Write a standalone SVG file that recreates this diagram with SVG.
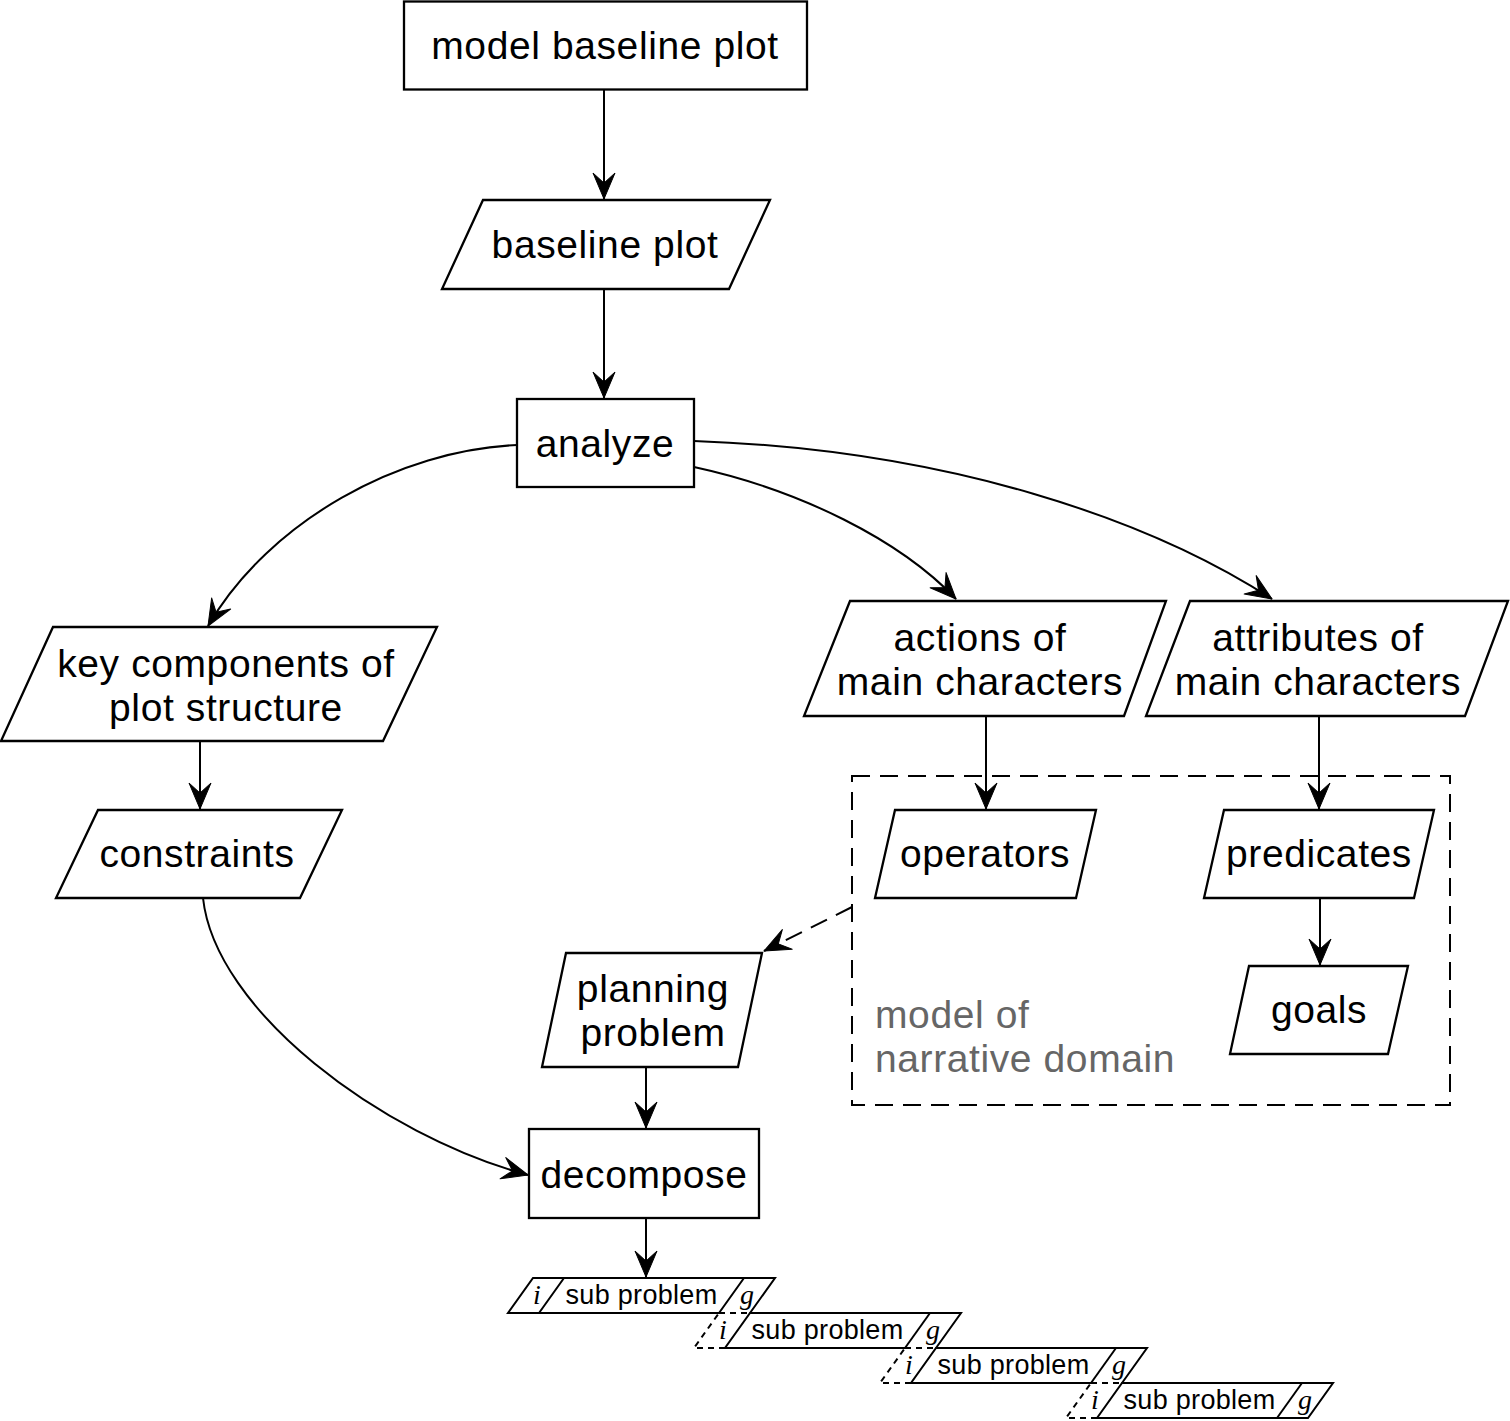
<svg xmlns="http://www.w3.org/2000/svg" width="1510" height="1421" viewBox="0 0 1510 1421">
<style>
.nd{fill:#fff;stroke:#000;stroke-width:2.3;stroke-linejoin:miter}
.t{font-family:"Liberation Sans",Arial,sans-serif;font-size:39px;letter-spacing:0.6px;fill:#000;text-anchor:middle}
.gt{font-family:"Liberation Sans",Arial,sans-serif;font-size:39px;letter-spacing:0.6px;fill:#666}
.c{fill:none;stroke:#000;stroke-width:2}
.ds{stroke-dasharray:18 10}
.sp{fill:none;stroke:#000;stroke-width:2}
.spd{fill:none;stroke:#000;stroke-width:2;stroke-dasharray:6 5}
.st{font-family:"Liberation Sans",Arial,sans-serif;font-size:27px;letter-spacing:0.3px;fill:#000;text-anchor:middle}
.it{font-family:"Liberation Serif","Times New Roman",serif;font-style:italic;font-size:28px;fill:#000;text-anchor:middle}
</style>
<defs>
<marker id="ah" viewBox="-28 -13 30 26" refX="0" refY="0" markerWidth="30" markerHeight="26" orient="auto" markerUnits="userSpaceOnUse">
<path d="M0,0 L-26,-11 L-16,0 L-26,11 Z" fill="#000" stroke="#000" stroke-width="1" stroke-linejoin="round"/>
</marker>
</defs>
<rect width="1510" height="1421" fill="#fff"/>

<g id="connectors">
<path class="c" d="M604,89 L604,199" marker-end="url(#ah)"/>
<path class="c" d="M604,289 L604,398" marker-end="url(#ah)"/>
<path class="c" d="M517,445 C400,450 270,520 208,626" marker-end="url(#ah)"/>
<path class="c" d="M694,467 C800,490 900,540 956,599" marker-end="url(#ah)"/>
<path class="c" d="M694,441 C950,450 1150,520 1272,599" marker-end="url(#ah)"/>
<path class="c" d="M200,741 L200,809" marker-end="url(#ah)"/>
<path class="c" d="M986,716 L986,809" marker-end="url(#ah)"/>
<path class="c" d="M1319,716 L1319,809" marker-end="url(#ah)"/>
<path class="c" d="M1320,898 L1320,965" marker-end="url(#ah)"/>
<path class="c" d="M203,898 C215,1010 380,1135 528,1175" marker-end="url(#ah)"/>
<path class="c ds" d="M852,907 L764,951" marker-end="url(#ah)"/>
<path class="c" d="M646,1067 L646,1128" marker-end="url(#ah)"/>
<path class="c" d="M646,1218 L646,1277" marker-end="url(#ah)"/>
</g>

<g id="domain">
<rect x="852" y="776" width="598" height="329" fill="none" stroke="#000" stroke-width="2" stroke-dasharray="18 10"/>
<text class="gt" x="875" y="1028">model of</text>
<text class="gt" x="875" y="1072">narrative domain</text>
</g>

<g id="model-baseline-plot">
<rect class="nd" x="404" y="1.5" width="403" height="88"/>
<text class="t" x="605" y="59">model baseline plot</text>
</g>

<g id="baseline-plot">
<polygon class="nd" points="483,200 770,200 729,289 442,289"/>
<text class="t" x="605" y="258">baseline plot</text>
</g>

<g id="analyze">
<rect class="nd" x="517" y="399" width="177" height="88"/>
<text class="t" x="605" y="457">analyze</text>
</g>

<g id="key-components">
<polygon class="nd" points="53,627 437,627 383,741 1,741"/>
<text class="t" x="226" y="677">key components of</text>
<text class="t" x="226" y="721">plot structure</text>
</g>

<g id="constraints">
<polygon class="nd" points="98,810 342,810 300,898 56,898"/>
<text class="t" x="197" y="867">constraints</text>
</g>

<g id="actions">
<polygon class="nd" points="850,601 1166,601 1124,716 804,716"/>
<text class="t" x="980" y="651">actions of</text>
<text class="t" x="980" y="695">main characters</text>
</g>

<g id="attributes">
<polygon class="nd" points="1190,601 1508,601 1465,716 1146,716"/>
<text class="t" x="1318" y="651">attributes of</text>
<text class="t" x="1318" y="695">main characters</text>
</g>

<g id="operators">
<polygon class="nd" points="895,810 1096,810 1076,898 875,898"/>
<text class="t" x="985" y="867">operators</text>
</g>

<g id="predicates">
<polygon class="nd" points="1224,810 1434,810 1414,898 1204,898"/>
<text class="t" x="1319" y="867">predicates</text>
</g>

<g id="goals">
<polygon class="nd" points="1249,966 1408,966 1388,1054 1230,1054"/>
<text class="t" x="1319" y="1023">goals</text>
</g>

<g id="planning-problem">
<polygon class="nd" points="566,953 762,953 738,1067 542,1067"/>
<text class="t" x="653" y="1002">planning</text>
<text class="t" x="653" y="1046">problem</text>
</g>

<g id="decompose">
<rect class="nd" x="529" y="1129" width="230" height="89"/>
<text class="t" x="644" y="1188">decompose</text>
</g>

<g id="sub-problem-1">
<path class="sp" d="M719,1313 L508,1313 L533,1278 L775,1278 L750,1313"/>
<path class="spd" d="M719,1313 L750,1313"/>
<path class="sp" d="M539,1313 L564,1278 M719,1313 L744,1278"/>
<text class="it" x="537" y="1304">i</text>
<text class="st" x="641.5" y="1304">sub problem</text>
<text class="it" x="747" y="1304">g</text>
</g>

<g id="sub-problem-2">
<path class="sp" d="M905,1348 L725,1348 L750,1313 L961,1313 L936,1348"/>
<path class="spd" d="M905,1348 L936,1348"/>
<path class="sp" d="M905,1348 L930,1313"/>
<path class="spd" d="M725,1348 L694,1348 L719,1313"/>
<text class="it" x="723" y="1339">i</text>
<text class="st" x="827.5" y="1339">sub problem</text>
<text class="it" x="933" y="1339">g</text>
</g>

<g id="sub-problem-3">
<path class="sp" d="M1091,1383 L911,1383 L936,1348 L1147,1348 L1122,1383"/>
<path class="spd" d="M1091,1383 L1122,1383"/>
<path class="sp" d="M1091,1383 L1116,1348"/>
<path class="spd" d="M911,1383 L880,1383 L905,1348"/>
<text class="it" x="909" y="1374">i</text>
<text class="st" x="1013.5" y="1374">sub problem</text>
<text class="it" x="1119" y="1374">g</text>
</g>

<g id="sub-problem-4">
<path class="sp" d="M1097,1418 L1122,1383 L1333,1383 L1308,1418 Z"/>
<path class="sp" d="M1277,1418 L1302,1383"/>
<path class="spd" d="M1097,1418 L1066,1418 L1091,1383"/>
<text class="it" x="1095" y="1409">i</text>
<text class="st" x="1199.5" y="1409">sub problem</text>
<text class="it" x="1305" y="1409">g</text>
</g>
</svg>
